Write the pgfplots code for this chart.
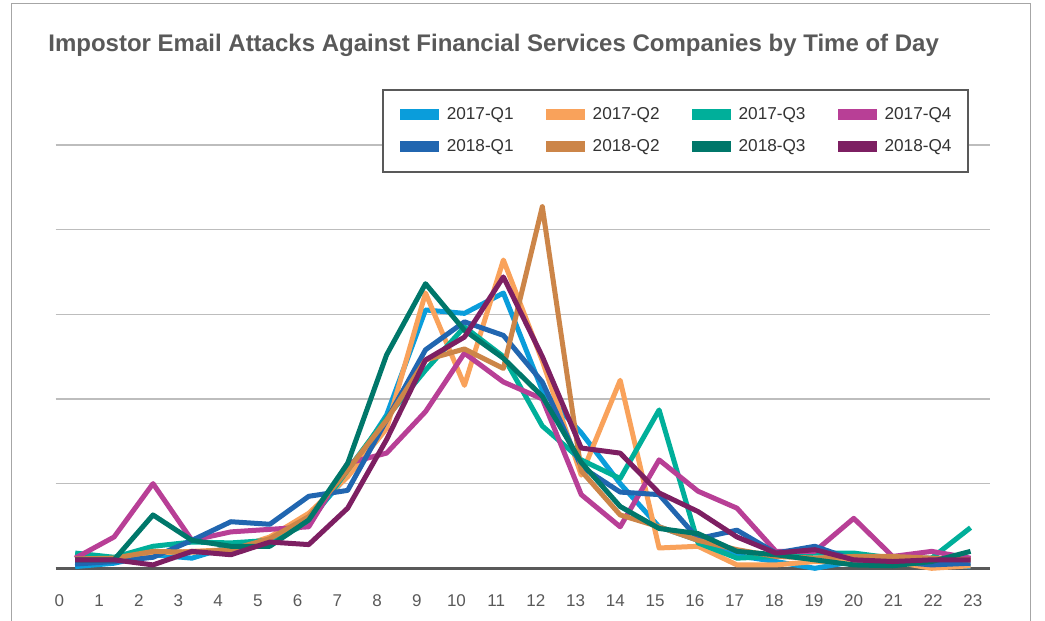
\documentclass[border=0pt]{standalone}
\usepackage{pgfplots}
\pgfplotsset{compat=1.18}
\usepackage{pgfplotstable}
\usepackage{fontspec}
\setmainfont{Liberation Sans}

\definecolor{cA}{HTML}{0A9DDB}
\definecolor{cB}{HTML}{F9A25B}
\definecolor{cC}{HTML}{00AF9A}
\definecolor{cD}{HTML}{B83F96}
\definecolor{cE}{HTML}{2166B0}
\definecolor{cF}{HTML}{CC8548}
\definecolor{cG}{HTML}{00776A}
\definecolor{cH}{HTML}{7D1F62}
\definecolor{bordergray}{HTML}{A6A6A6}
\definecolor{titlegray}{HTML}{595959}
\definecolor{gridgray}{HTML}{BDBDBD}
\definecolor{basegray}{HTML}{595959}
\definecolor{tickgray}{HTML}{595959}
\definecolor{legendgray}{HTML}{595959}
\definecolor{legendtext}{HTML}{333333}

\pgfplotstableread{
h  qa   qb   qc   qd   qe   qf   qg   qh
0  0.02 0.15 0.18 0.12 0.05 0.11 0.10 0.10
1  0.06 0.12 0.13 0.37 0.08 0.12 0.10 0.10
2  0.16 0.18 0.26 1.00 0.13 0.20 0.63 0.04
3  0.12 0.20 0.31 0.33 0.33 0.19 0.33 0.20
4  0.26 0.22 0.30 0.43 0.55 0.22 0.26 0.16
5  0.33 0.37 0.33 0.46 0.52 0.35 0.26 0.31
6  0.57 0.65 0.53 0.49 0.85 0.61 0.57 0.28
7  1.10 1.08 1.16 1.24 0.92 1.16 1.24 0.71
8  1.81 1.65 1.78 1.36 1.75 1.75 2.52 1.52
9  3.05 3.25 2.34 1.85 2.58 2.46 3.36 2.46
10 3.01 2.16 2.85 2.54 2.91 2.59 2.81 2.73
11 3.25 3.64 2.50 2.20 2.75 2.36 2.48 3.44
12 2.10 2.45 1.68 2.00 2.20 4.27 2.03 2.50
13 1.60 1.10 1.28 0.87 1.20 1.15 1.25 1.42
14 1.00 2.22 1.06 0.49 0.90 0.63 0.73 1.36
15 0.49 0.24 1.87 1.28 0.87 0.49 0.47 0.89
16 0.33 0.26 0.30 0.91 0.35 0.33 0.41 0.67
17 0.15 0.04 0.12 0.71 0.45 0.22 0.20 0.37
18 0.08 0.04 0.14 0.20 0.18 0.14 0.16 0.18
19 0.00 0.08 0.18 0.20 0.26 0.12 0.10 0.22
20 0.08 0.08 0.18 0.59 0.10 0.14 0.04 0.10
21 0.06 0.08 0.12 0.14 0.08 0.14 0.03 0.08
22 0.04 0.00 0.12 0.20 0.04 0.12 0.08 0.10
23 0.02 0.03 0.48 0.12 0.06 0.10 0.20 0.10
}\hourdata

\begin{document}
\begin{tikzpicture}
\useasboundingbox (0pt,0pt) rectangle (522.5pt,-310.5pt);
\draw[color=bordergray, line width=0.5pt] (5.5pt,-1.5pt) rectangle (515pt,-330pt);
\node[anchor=base west, inner sep=0pt, text=titlegray,
      font=\fontsize{12}{14}\selectfont\bfseries] at (24pt,-25.5pt)
  {Impostor Email Attacks Against Financial Services Companies by Time of Day};
\begin{axis}[
  at={(27.85pt,-284.15pt)}, anchor=south west,
  scale only axis, width=467.15pt, height=211.75pt,
  xmin=-0.5, xmax=23.5, ymin=0, ymax=5,
  clip=false,
  axis line style={draw=none},
  major tick length=0pt,
  ytick={1,2,3,4,5}, yticklabels={},
  ymajorgrids, grid style={line width=0.7pt, color=gridgray},
  extra y ticks={0}, extra y tick labels={},
  extra y tick style={grid style={line width=1.5pt, color=basegray}},
  xtick={-0.408,0.612,1.633,2.653,3.673,4.694,5.714,6.734,7.754,8.775,9.795,10.815,11.836,12.856,13.876,14.897,15.917,16.937,17.957,18.978,19.998,21.018,22.039,23.059},
  xticklabels={0,1,2,3,4,5,6,7,8,9,10,11,12,13,14,15,16,17,18,19,20,21,22,23},
  xticklabel style={anchor=base, yshift=-19.2pt, text=tickgray,
      font=\fontsize{8.5}{10}\selectfont},
  every axis plot/.append style={line width=2.5pt, line join=round, no markers},
  legend image code/.code={\fill[#1,draw=none] (0pt,-2.75pt) rectangle (19.5pt,2.75pt);},
  legend columns=4,
  legend cell align=left,
  legend style={at={(0.3492,1.1325)}, anchor=north west,
      draw=legendgray, line width=1pt, fill=white,
      inner xsep=8.4pt, inner ysep=8.5pt,
      font=\fontsize{8.6}{10}\selectfont, text=legendtext,
      nodes={inner sep=0pt, text height=6.2pt, text depth=1.8pt},
      row sep=8pt,
      /tikz/every odd column/.append style={column sep=4pt},
      /tikz/every even column/.append style={column sep=16pt}},
]
\addplot[color=cA] table[x=h, y=qa] {\hourdata};
\addlegendentry{2017-Q1}
\addplot[color=cB] table[x=h, y=qb] {\hourdata};
\addlegendentry{2017-Q2}
\addplot[color=cC] table[x=h, y=qc] {\hourdata};
\addlegendentry{2017-Q3}
\addplot[color=cD] table[x=h, y=qd] {\hourdata};
\addlegendentry{2017-Q4}
\addplot[color=cE] table[x=h, y=qe] {\hourdata};
\addlegendentry{2018-Q1}
\addplot[color=cF] table[x=h, y=qf] {\hourdata};
\addlegendentry{2018-Q2}
\addplot[color=cG] table[x=h, y=qg] {\hourdata};
\addlegendentry{2018-Q3}
\addplot[color=cH] table[x=h, y=qh] {\hourdata};
\addlegendentry{2018-Q4}
\end{axis}
\end{tikzpicture}
\end{document}
